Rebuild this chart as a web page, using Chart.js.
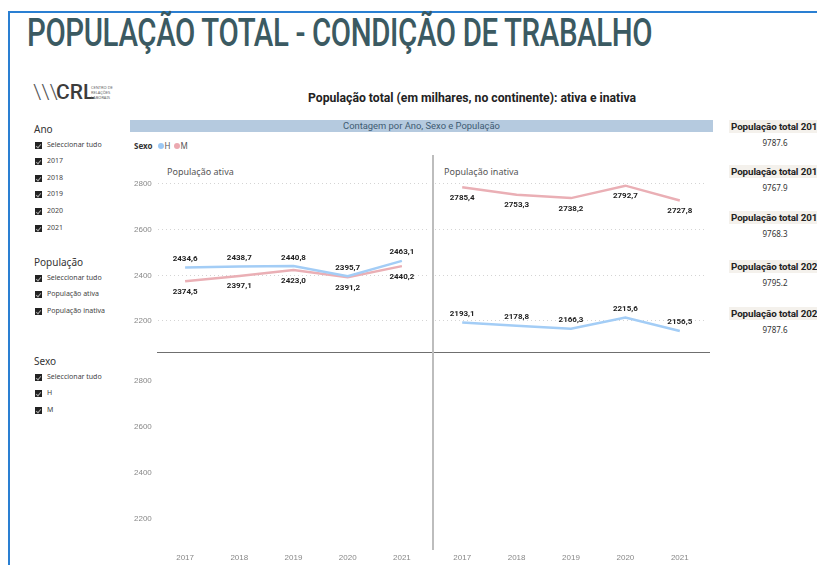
<!DOCTYPE html>
<html>
<head>
<meta charset="utf-8">
<script src="https://cdn.jsdelivr.net/npm/chart.js@4"></script>
<style>
  body { margin: 0; width: 817px; height: 565px; overflow: hidden; background: #fff; position: relative; font-family: "Segoe UI", "Noto Sans", Roboto, sans-serif; }
  .abs { position: absolute; white-space: nowrap; }
  .frameL { position: absolute; left: 8px; top: 11px; width: 2px; height: 560px; background: #2a7fd2; }
  .frameT { position: absolute; left: 8px; top: 11px; width: 820px; height: 2px; background: #2a7fd2; }
  #title { left: 27px; top: 10px; font-family: Roboto, sans-serif; font-weight: 500; font-size: 39px; color: #3b5a62; transform-origin: 0 0; letter-spacing: -0.5px; }
  #head { left: 308px; top: 91px; font-family: Roboto, sans-serif; font-weight: 700; font-size: 12px; color: #222; transform-origin: 0 0; }
  .slTitle { font-size: 10px; color: #333; }
  .item { font-size: 7px; color: #444; }
  .box { position: absolute; width: 7px; height: 7px; background: #222; }
  .box::after { content: ""; position: absolute; left: 2px; top: 1px; width: 2px; height: 4px; border: solid #aaa; border-width: 0 1px 1px 0; transform: rotate(40deg); }
  canvas { position: absolute; }
  .panel { font-size: 9px; color: #555; }
  .cardH { left: 729px; width: 100px; height: 13px; background: #f4f1ec; font-family: Roboto, sans-serif; font-weight: 700; font-size: 9.8px; letter-spacing: -0.1px; color: #222; padding-left: 2px; line-height: 13px; }
  .cardV { font-size: 8px; color: #333; width: 100px; text-align: center; left: 725px; }
  .dot { display: inline-block; width: 6px; height: 6px; border-radius: 50%; margin: 0 1px 0 3px; vertical-align: 0; }
</style>
</head>
<body>
<div class="frameT"></div>
<div class="frameL"></div>
<div id="title" class="abs">POPULAÇÃO TOTAL - CONDIÇÃO DE TRABALHO</div>

<!-- logo -->
<div class="abs" style="left:33px;top:80px;font-size:21px;color:#555;font-family:'Liberation Sans Narrow',Roboto,sans-serif;font-weight:300;">\\\</div>
<div class="abs" style="left:56px;top:80px;font-size:21px;color:#3c3c3c;font-family:Roboto,sans-serif;font-weight:500;">CRL</div>
<div class="abs" style="left:91px;top:85px;font-size:4px;line-height:5px;color:#666;">CENTRO DE<br>RELAÇÕES<br>LABORAIS</div>

<div id="slicers"></div>

<!-- visual header -->
<div id="head" class="abs">População total (em milhares, no continente): ativa e inativa</div>
<div class="abs" style="left:130px;top:120px;width:583px;height:12px;background:#b5cadf;"></div>
<div class="abs" style="left:130px;top:119px;width:583px;text-align:center;font-family:Roboto,sans-serif;font-size:9.4px;color:#3e5b72;line-height:13px;">Contagem por Ano, Sexo e População</div>
<div class="abs" style="left:134px;top:140px;font-size:8px;color:#333;"><b>Sexo</b> <span class="dot" style="background:#9cc8f4;"></span><span style="color:#555">H</span><span class="dot" style="background:#eba9b0;"></span><span style="color:#555">M</span></div>

<div class="abs panel" style="left:167px;top:165px;">População ativa</div>
<div class="abs panel" style="left:444px;top:165px;">População inativa</div>

<canvas id="cTL" width="295" height="192" style="left:134px;top:160px;"></canvas>
<canvas id="cTR" width="272" height="192" style="left:435px;top:160px;"></canvas>
<canvas id="cBL" width="295" height="208" style="left:134px;top:357px;"></canvas>
<canvas id="cBR" width="272" height="208" style="left:435px;top:357px;"></canvas>

<div class="abs" style="left:157px;top:352px;width:553px;height:1px;background:#6f6f6f;"></div>
<div class="abs" style="left:432px;top:155px;width:2px;height:395px;background:#bdbdbd;"></div>

<div id="cards"></div>

<script>
const anos = ["2017", "2018", "2019", "2020", "2021"];
const ativaH = [2434.6, 2438.7, 2440.8, 2395.7, 2463.1];
const ativaM = [2374.5, 2397.1, 2423.0, 2391.2, 2440.2];
const inativaH = [2193.1, 2178.8, 2166.3, 2215.6, 2156.5];
const inativaM = [2785.4, 2753.3, 2738.2, 2792.7, 2727.8];
const yTicks = [2200, 2400, 2600, 2800];
const totais = [9787.6, 9767.9, 9768.3, 9795.2, 9787.6];

const slicerAno = ["Seleccionar tudo", "2017", "2018", "2019", "2020", "2021"];
const slicerPop = ["Seleccionar tudo", "População ativa", "População inativa"];
const slicerSexo = ["Seleccionar tudo", "H", "M"];

const corH = "#a3cdf6";
const corM = "#eaafb5";
const Y_MIN = 2064.2, Y_MAX = 2905.1;

// slicers
function slicer(titulo, itens, top) {
  let html = `<div class="abs slTitle" style="left:34px;top:${top}px;">${titulo}</div>`;
  itens.forEach((t, i) => {
    const y = top + 18.5 + i * 16.6;
    html += `<div class="box" style="left:35px;top:${y + 1}px;"></div>`;
    html += `<div class="abs item" style="left:47px;top:${y - 1}px;">${t}</div>`;
  });
  return html;
}
document.getElementById("slicers").innerHTML =
  slicer("Ano", slicerAno, 122) + slicer("População", slicerPop, 255) + slicer("Sexo", slicerSexo, 354);

// cards
const cardTops = [120, 165, 211, 260, 307];
document.getElementById("cards").innerHTML = totais.map((v, i) =>
  `<div class="abs cardH" style="top:${cardTops[i]}px;">População total ${anos[i]}</div>` +
  `<div class="abs cardV" style="top:${cardTops[i] + 17}px;">${v.toFixed(1)}</div>`
).join("");

// ajustar larguras dos títulos
const tEl = document.getElementById("title");
tEl.style.transform = `scaleX(${625 / tEl.offsetWidth})`;
const hEl = document.getElementById("head");
hEl.style.transform = `scaleX(${328 / hEl.offsetWidth})`;

const fmt = (v) => v.toFixed(1).replace(".", ",");

const valueLabels = {
  id: "valueLabels",
  afterDatasetsDraw(chart) {
    const ctx = chart.ctx;
    ctx.save();
    ctx.font = 'bold 8px "Segoe UI", Roboto, sans-serif';
    ctx.fillStyle = "#222";
    ctx.textAlign = "center";
    ctx.textBaseline = "middle";
    chart.data.datasets.forEach((ds, i) => {
      chart.getDatasetMeta(i).data.forEach((pt, j) => {
        const dy = ds.label === "H" ? -8.5 : 10.5;
        ctx.fillText(fmt(ds.data[j]), pt.x, pt.y + dy);
      });
    });
    ctx.restore();
  }
};

function makeChart(id, opts) {
  const { h, m, leftAxis, bottomAxis } = opts;
  const datasets = [];
  if (h) datasets.push({ label: "H", data: h, borderColor: corH, borderWidth: 2.5, pointRadius: 0, tension: 0 });
  if (m) datasets.push({ label: "M", data: m, borderColor: corM, borderWidth: 2.5, pointRadius: 0, tension: 0 });
  return new Chart(document.getElementById(id), {
    type: "line",
    data: { labels: anos, datasets },
    options: {
      responsive: false,
      animation: false,
      layout: { padding: 0 },
      plugins: { legend: { display: false }, tooltip: { enabled: false } },
      scales: {
        x: {
          offset: true,
          display: bottomAxis,
          grid: { display: false, drawTicks: false },
          border: { display: false },
          ticks: { color: "#888", font: { size: 8 }, padding: 3, maxRotation: 0 },
          afterFit: (s) => { s.height = bottomAxis ? 15 : 0; s.paddingLeft = 0; s.paddingRight = 0; }
        },
        y: {
          min: Y_MIN, max: Y_MAX,
          afterBuildTicks: (s) => { s.ticks = yTicks.map((v) => ({ value: v })); },
          grid: { display: !bottomAxis, color: "#d4d4d4", drawTicks: false, lineWidth: 1 },
          border: { display: false, dash: [1, 3] },
          ticks: { display: leftAxis, color: "#888", font: { size: 8 }, padding: 0, crossAlign: "far", callback: (v) => String(v) },
          afterFit: (s) => { s.width = leftAxis ? 24 : 0; s.paddingTop = 0; s.paddingBottom = 0; }
        }
      }
    },
    plugins: [valueLabels]
  });
}

makeChart("cTL", { h: ativaH, m: ativaM, leftAxis: true, bottomAxis: false });
makeChart("cTR", { h: inativaH, m: inativaM, leftAxis: false, bottomAxis: false });
makeChart("cBL", { leftAxis: true, bottomAxis: true });
makeChart("cBR", { leftAxis: false, bottomAxis: true });
</script>
</body>
</html>
